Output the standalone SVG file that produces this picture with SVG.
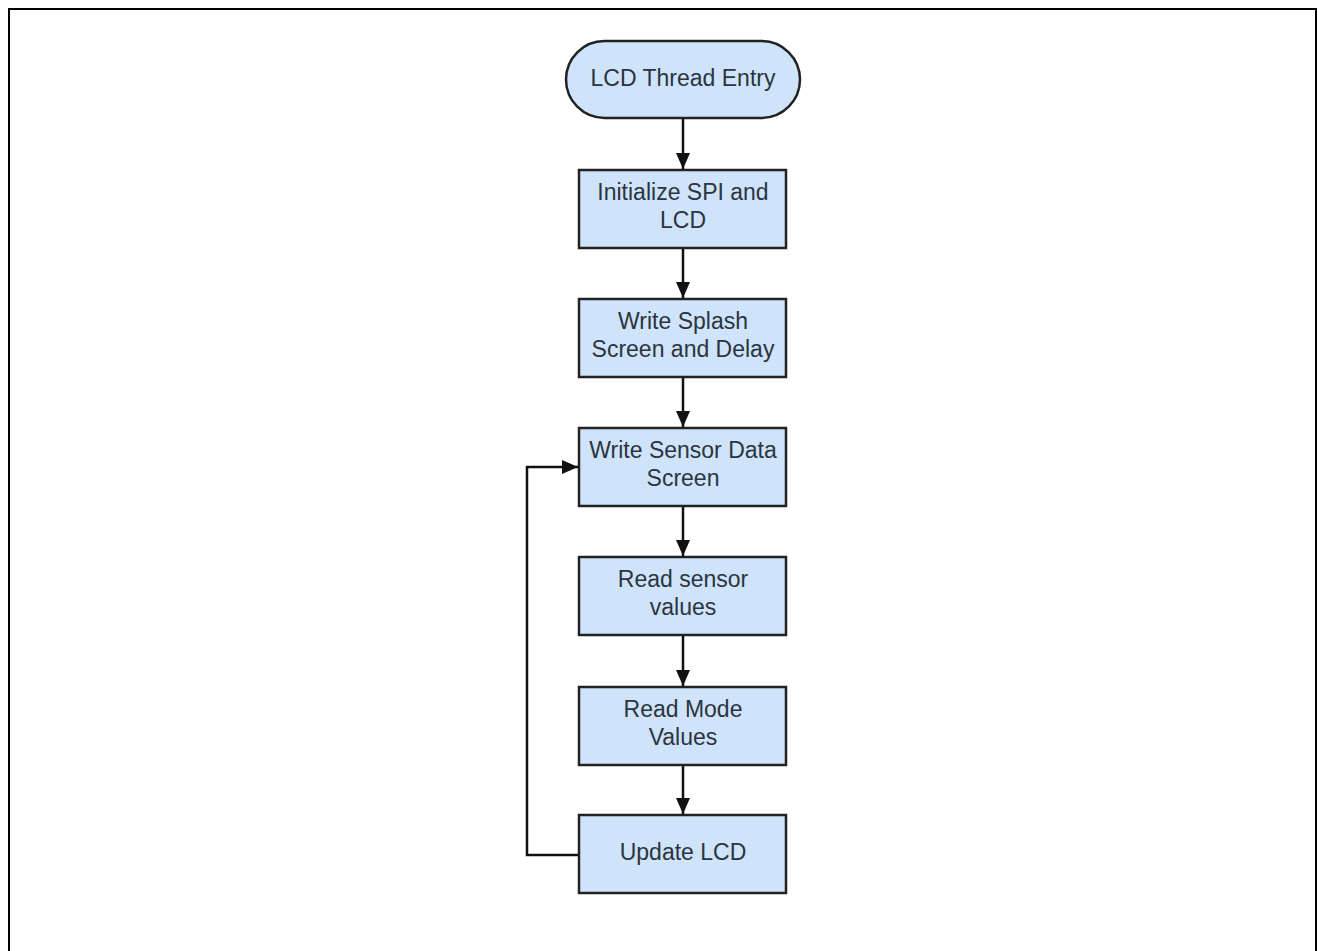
<svg xmlns="http://www.w3.org/2000/svg" width="1318" height="951" viewBox="0 0 1318 951">
<style>
.n{fill:#cfe4fa;stroke:#222;stroke-width:2.5}
.t{font-family:"Liberation Sans",Arial,sans-serif;font-size:23px;fill:#2b3440;text-anchor:middle}
.c{fill:none;stroke:#111;stroke-width:2.5}
</style>
<defs>
<marker id="a" markerWidth="16" markerHeight="14" viewBox="0 0 16 14" refX="16" refY="7" orient="auto" markerUnits="userSpaceOnUse">
<path d="M0,0 L16,7 L0,14 z" fill="#111"/>
</marker>
</defs>
<rect x="0" y="0" width="1318" height="951" fill="#fff"/>
<path d="M9,951 V9 H1316 V951" fill="none" stroke="#000" stroke-width="2"/>
<g id="n0"><rect class="n" x="566" y="41" width="234" height="77" rx="38.5"/><text class="t" x="683" y="86">LCD Thread Entry</text></g>
<g id="n1"><rect class="n" x="579" y="170" width="207" height="78"/><text class="t" x="683" y="200">Initialize SPI and</text><text class="t" x="683" y="228">LCD</text></g>
<g id="n2"><rect class="n" x="579" y="299" width="207" height="78"/><text class="t" x="683" y="329">Write Splash</text><text class="t" x="683" y="357">Screen and Delay</text></g>
<g id="n3"><rect class="n" x="579" y="428" width="207" height="78"/><text class="t" x="683" y="458">Write Sensor Data</text><text class="t" x="683" y="486">Screen</text></g>
<g id="n4"><rect class="n" x="579" y="557" width="207" height="78"/><text class="t" x="683" y="587">Read sensor</text><text class="t" x="683" y="615">values</text></g>
<g id="n5"><rect class="n" x="579" y="687" width="207" height="78"/><text class="t" x="683" y="717">Read Mode</text><text class="t" x="683" y="745">Values</text></g>
<g id="n6"><rect class="n" x="579" y="815" width="207" height="78"/><text class="t" x="683" y="860">Update LCD</text></g>
<g id="connectors">
<path class="c" d="M683,119 V169" marker-end="url(#a)"/>
<path class="c" d="M683,249 V298" marker-end="url(#a)"/>
<path class="c" d="M683,378 V427" marker-end="url(#a)"/>
<path class="c" d="M683,507 V556" marker-end="url(#a)"/>
<path class="c" d="M683,636 V686" marker-end="url(#a)"/>
<path class="c" d="M683,766 V814" marker-end="url(#a)"/>
<path class="c" d="M578,855 H527 V467 H578" marker-end="url(#a)"/>
</g>
</svg>
